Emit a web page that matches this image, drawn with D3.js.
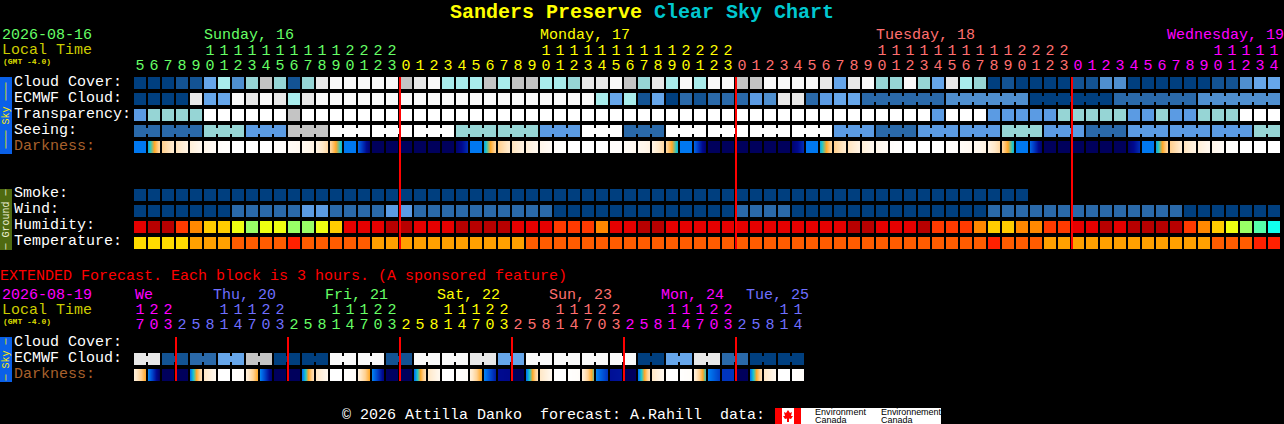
<!DOCTYPE html>
<html>
<head>
<meta charset="utf-8">
<title>Sanders Preserve Clear Sky Chart</title>
<script src="https://cdn.jsdelivr.net/npm/d3@7"></script>
<style>
    html, body { margin: 0; padding: 0; background: #000; overflow: hidden; }
    svg { display: block; }
    text { font-family: "Liberation Mono", "DejaVu Sans Mono", monospace; font-size: 15px; white-space: pre; }
</style>
</head>
<body>
<div id="chart"></div>
<script>
// colour levels used by the sky rows
var skyColors = ["#003f7f", "#135393", "#2a69a9", "#4f8fcf", "#5b9be3", "#66a6ea", "#96d5d5", "#a8ecec", "#c4c4c4", "#e8e8e8", "#f9f9f9", "#ffffff"];
var humidityColors = ["#b80000", "#e60000", "#ff3a00", "#ff8800", "#ffcc00", "#eeff11", "#99ff66", "#55ffaa", "#11ffee"];
var tempColors = ["#ffdc00", "#ffa000", "#ff5c00", "#ff2000"];
var darkLevels = [0, 1, 2, 3, 4, 5, 6, 7, 8, 9];
var darkColors = ["#ffffff", "#fff6ea", "#ffe8c8", "#ffd090", "#ffa828", "#20c8c8", "#0078f0", "#0040c8", "#000a90", "#00005c"];

// hourly block, 82 columns
var hours = [5,6,7,8,9,10,11,12,13,14,15,16,17,18,19,20,21,22,23,
    0,1,2,3,4,5,6,7,8,9,10,11,12,13,14,15,16,17,18,19,20,21,22,23,
    0,1,2,3,4,5,6,7,8,9,10,11,12,13,14,15,16,17,18,19,20,21,22,23,
    0,1,2,3,4,5,6,7,8,9,10,11,12,13,14];
var hourDays = [0,0,0,0,0,0,0,0,0,0,0,0,0,0,0,0,0,0,0,
    1,1,1,1,1,1,1,1,1,1,1,1,1,1,1,1,1,1,1,1,1,1,1,1,
    2,2,2,2,2,2,2,2,2,2,2,2,2,2,2,2,2,2,2,2,2,2,2,2,
    3,3,3,3,3,3,3,3,3,3,3,3,3,3,3];
var dayNames = ["Sunday, 16", "Monday, 17", "Tuesday, 18", "Wednesday, 19"];
var dayCols = [5, 29, 53, 77];
var dayColors = ["#66ff66", "#ffff00", "#ff6f6f", "#ff00ff"];
var midnights = [19, 43, 67];

var cloud = [0,0,0,1,1,5,7,3,6,8,6,1,6,9,10,10,10,10,10,8,9,
    10,7,7,7,8,7,8,8,7,7,6,9,9,10,8,6,9,7,10,7,10,10,8,8,10,10,10,10,9,5,
    9,10,6,6,10,6,5,9,7,6,0,1,0,0,0,0,1,1,3,3,0,0,0,0,0,0,1,1,3,5,5];
var ecmwf = [0,0,0,0,9,5,5,10,9,10,9,7,9,10,10,10,10,10,10,10,10,
    10,10,10,10,10,10,10,10,10,10,10,10,7,5,7,1,5,0,2,1,2,2,2,4,3,9,9,2,4,5,
    5,2,2,2,2,2,2,3,3,3,3,3,3,0,0,0,0,0,0,2,2,2,2,2,2,3,3,3,3,3,3];
var ecmwfRuns = [1,1,1,1,1,1,1,1,1,1,1,1,1,1,1,1,1,1,1,1,1,1,1,1,1,1,
    1,1,1,1,1,1,1,1,1,1,1,1,1,1,1,1,1,1,1,1,1,1,1,1,1,1,6,6,6,6,6];
var transparency = [4,6,6,6,6,11,11,11,11,11,11,8,11,11,11,11,11,11,11,11,11,
    11,11,11,11,11,11,11,11,11,11,11,11,11,11,11,11,11,11,11,11,11,11,11,11,11,11,11,11,11,11,
    11,11,11,11,11,11,4,11,11,11,4,4,4,4,4,6,6,6,6,6,4,4,6,4,4,6,6,6,11,11,11];
var seeing = [2,2,2,2,2,6,6,6,4,4,4,8,8,8,11,11,11,11,11,11,11,
    11,11,6,6,6,6,6,6,4,4,4,11,11,11,2,2,2,11,11,11,11,11,11,11,11,11,11,11,11,4,
    4,4,2,2,2,4,4,4,4,4,4,6,6,6,4,4,4,2,2,2,4,4,4,4,4,4,4,4,4,6,6];
var seeingRuns = [2,3,3,3,3,3,3,3,3,3,3,3,3,3,3,3,3,3,3,3,3,3,3,3,3,3,3,2];
var darkStart = [6,5.4,3,2.2,1.5,1,0.2,0,0,0,0.2,0.4,0.7,1.2,2.8,6,6.4,9,9,9,9,9,9,8.6,
    6,5.4,3,2.2,1.5,1,0.2,0,0,0,0.2,0.4,0.7,1.2,2.8,6,6.4,9,9,9,9,9,9,8.6,
    6,5.4,3,2.2,1.5,1,0.2,0,0,0,0.2,0.4,0.7,1.2,2.8,6,6.4,9,9,9,9,9,9,8.6,
    6,5.4,3,2.2,1.5,1,0.2,0,0,0];
var darkEnd = [6,2.8,1.8,1.2,0.8,0.4,0.1,0,0,0,0.2,0.7,1.2,2.6,5.2,6,8.6,9,9,9,9,9,9,7.4,
    6,2.8,1.8,1.2,0.8,0.4,0.1,0,0,0,0.2,0.7,1.2,2.6,5.2,6,8.6,9,9,9,9,9,9,7.4,
    6,2.8,1.8,1.2,0.8,0.4,0.1,0,0,0,0.2,0.7,1.2,2.6,5.2,6,8.6,9,9,9,9,9,9,7.4,
    6,2.8,1.8,1.2,0.8,0.4,0.1,0,0,0];

var smoke = [0,0,0,0,0,0,0,0,0,0,0,0,0,0,0,0,0,0,0,0,0,0,0,0,0,0,0,0,0,0,0,0,
    0,0,0,0,0,0,0,0,0,0,0,0,0,0,0,0,0,0,0,0,0,0,0,0,0,0,0,0,0,0,0,0];
var wind = [0,0,0,0,0,0,0,2,2,2,2,2,4,4,2,2,2,2,4,4,2,
    2,2,2,2,2,2,2,2,2,0,0,0,0,0,0,0,0,0,0,0,0,0,2,2,2,2,0,0,0,0,
    0,0,0,0,0,0,0,0,0,0,2,2,2,2,2,2,2,2,2,2,2,2,2,2,0,0,0,0,0,0,0];
var humidity = [1,0,0,2,3,4,4,5,6,5,5,6,6,5,4,1,1,1,0,0,1,
    1,1,0,0,0,0,1,1,1,2,2,2,3,1,1,0,0,1,1,1,1,1,1,1,1,1,1,1,1,1,
    0,0,1,1,1,0,2,2,2,3,4,4,3,3,2,2,1,1,0,1,0,0,0,0,2,3,4,5,6,7,8];
var temperature = [0,0,0,0,1,1,1,2,2,2,2,3,2,2,2,2,2,1,1,1,1,
    1,1,1,1,1,1,1,2,2,2,2,2,2,2,2,2,2,2,2,2,2,2,2,2,2,2,2,2,2,2,
    2,2,2,2,2,2,2,2,2,2,3,2,2,2,1,1,1,1,1,1,1,1,1,1,1,1,2,2,2,3,3];

// extended block, 48 columns of 3 hours each
var extHours = [17,20,23,2,5,8,11,14,17,20,23,2,5,8,11,14,17,20,23,2,5,8,11,14,
    17,20,23,2,5,8,11,14,17,20,23,2,5,8,11,14,17,20,23,2,5,8,11,14];
var extHourDays = [0,0,0,1,1,1,1,1,1,1,1,2,2,2,2,2,2,2,2,3,3,3,3,3,
    3,3,3,4,4,4,4,4,4,4,4,5,5,5,5,5,5,5,5,6,6,6,6,6];
var extDayNames = ["We", "Thu, 20", "Fri, 21", "Sat, 22", "Sun, 23", "Mon, 24", "Tue, 25"];
var extDayCols = [0, 6, 14, 22, 30, 38, 46];
var extDayColors = ["#ff00ff", "#6f6fff", "#66ff66", "#ffff00", "#ff6f6f", "#ff00ff", "#6f6fff"];
var extMidnights = [3, 11, 19, 27, 35, 43];
var extEcmwf = [9,9,1,1,2,2,5,5,8,8,0,0,0,0,10,10,10,10,1,1,10,10,10,10,
    9,9,5,5,10,10,10,10,10,10,10,10,0,0,5,5,9,9,2,2,0,0,0,0];
var extRuns = [2,2,2,2,2,2,2,2,2,2,2,2,2,2,2,2,2,2,2,2,2,2,2,2];
var extDarkStart = [1.5,5.9,9,9,6,2,0,0.1,1.5,5.9,9,9,6,2,0,0.1,1.5,5.9,8.9,9,6,2,0,0.1,
    1.5,5.9,8,9,6,2,0,0.1,1.5,5.9,7.9,9,6,2,0,0.1,1.5,5.9,7.2,9,6,2,0,0.1];
var extDarkEnd = [3.9,8.8,9,9,2.4,0.8,0,0.3,3.9,8.5,9,9,2.4,0.8,0,0.3,3.9,8.2,8.9,9,2.4,0.8,0,0.3,
    4.1,7.6,8.1,9,2.4,0.8,0,0.3,4.5,7.2,7.8,9,2.4,0.8,0,0.3,4.8,7,7.2,9,2.4,0.8,0,0.3];

var W = 1284, H = 424;
var step = 14, cellW = 12, cellH = 12;

var svg = d3.select("#chart").append("svg")
    .attr("width", W)
    .attr("height", H);

var darkScale = d3.scaleLinear().domain(darkLevels).range(darkColors).clamp(true);

var x = d3.scaleBand()
    .domain(d3.range(hours.length))
    .range([134, 134 + hours.length * step - 2])
    .paddingInner(2 / step)
    .paddingOuter(0);

var xExt = d3.scaleBand()
    .domain(d3.range(extHours.length))
    .range([134, 134 + extHours.length * step - 2])
    .paddingInner(2 / step)
    .paddingOuter(0);

function label(str, px, py, color, size, anchor) {
    return svg.append("text")
        .attr("x", px)
        .attr("y", py)
        .attr("fill", color)
        .attr("text-anchor", anchor || "start")
        .style("font-size", (size || 15) + "px")
        .text(str);
}

// one row of solid cells; runs joins neighbours with a small bridge in the gap
function drawRow(scale, top, values, colors, runs) {
    var g = svg.append("g");
    g.selectAll("rect.cell")
        .data(values)
        .enter()
        .append("rect")
        .attr("class", "cell")
        .attr("x", function(d, i) { return scale(i); })
        .attr("y", top)
        .attr("width", cellW)
        .attr("height", cellH)
        .attr("fill", function(d) { return colors[d]; });

    if (runs) {
        var col = 0;
        runs.forEach(function(n) {
            for (var k = 0; k < n - 1; k++) {
                g.append("rect")
                    .attr("x", scale(col + k) + cellW)
                    .attr("y", top + 3)
                    .attr("width", step - cellW)
                    .attr("height", cellH - 6)
                    .attr("fill", colors[values[col + k]]);
            }
            col += n;
        });
    }
}

// darkness cells fade from start to end, one pixel column at a time
function drawDarkness(scale, top, starts, ends) {
    svg.append("g").selectAll("g")
        .data(starts)
        .enter()
        .append("g")
        .attr("transform", function(d, i) { return "translate(" + scale(i) + "," + top + ")"; })
        .each(function(d, i) {
            d3.select(this).selectAll("rect")
                .data(d3.range(cellW))
                .enter()
                .append("rect")
                .attr("x", function(p) { return p; })
                .attr("width", 1)
                .attr("height", cellH)
                .attr("shape-rendering", "crispEdges")
                .attr("fill", function(p) {
                    return darkScale(starts[i] + (ends[i] - starts[i]) * p / (cellW - 1));
                });
        });
}

function drawHours(scale, hrs, days, colors, tensY, unitsY) {
    hrs.forEach(function(h, i) {
        var cx = scale(i) + cellW / 2;
        if (h >= 10) label(Math.floor(h / 10), cx, tensY, colors[days[i]], 15, "middle");
        label(h % 10, cx, unitsY, colors[days[i]], 15, "middle");
    });
}

function drawMidnights(scale, cols, top, bottom) {
    svg.append("g").selectAll("rect")
        .data(cols)
        .enter()
        .append("rect")
        .attr("x", function(d) { return scale(d) - 1; })
        .attr("y", top)
        .attr("width", 2)
        .attr("height", bottom - top)
        .attr("fill", "#ff0000");
}

function sideBar(top, bottom, fill, str, color) {
    svg.append("rect")
        .attr("x", 0)
        .attr("y", top)
        .attr("width", 12)
        .attr("height", bottom - top)
        .attr("fill", fill);
    svg.append("text")
        .attr("transform", "translate(9," + ((top + bottom) / 2) + ") rotate(-90)")
        .attr("text-anchor", "middle")
        .attr("fill", color)
        .style("font-size", "10px")
        .text(str);
}

// title
var title = svg.append("text")
    .attr("x", 450)
    .attr("y", 18)
    .style("font-size", "20px")
    .style("font-weight", "bold");
title.append("tspan").attr("fill", "#ffff00").text("Sanders Preserve ");
title.append("tspan").attr("fill", "#00c8d0").text("Clear Sky Chart");

// hourly header
label("2026-08-16", 2, 39, "#66ff66");
label("Local Time", 2, 54, "#cccc00");
label("(GMT -4.0)", 3, 64, "#dddd00", 8).style("font-weight", "bold");
dayNames.forEach(function(name, i) {
    var px = Math.min(x(Math.min(dayCols[i], hours.length - 1)), W - name.length * 9);
    label(name, px, 39, dayColors[i]);
});
drawHours(x, hours, hourDays, dayColors, 55, 70);

// hourly rows
sideBar(77, 154, "#0a60e8", "\u2500\u2500\u2500 Sky \u2500\u2500\u2500", "#ffee00");
label("Cloud Cover:", 14, 86, "#ffffff");
label("ECMWF Cloud:", 14, 102, "#ffffff");
label("Transparency:", 14, 118, "#ffffff");
label("Seeing:", 14, 134, "#ffffff");
label("Darkness:", 14, 150, "#a8602c");
drawRow(x, 77, cloud, skyColors);
drawRow(x, 93, ecmwf, skyColors, ecmwfRuns);
drawRow(x, 109, transparency, skyColors);
drawRow(x, 125, seeing, skyColors, seeingRuns);
drawDarkness(x, 141, darkStart, darkEnd);

sideBar(189, 250, "#4f6a10", "\u2500 Ground \u2500", "#f0f0d8");
label("Smoke:", 14, 197, "#ffffff");
label("Wind:", 14, 213, "#ffffff");
label("Humidity:", 14, 229, "#ffffff");
label("Temperature:", 14, 245, "#ffffff");
drawRow(x, 189, smoke, skyColors);
drawRow(x, 205, wind, skyColors);
drawRow(x, 221, humidity, humidityColors);
drawRow(x, 237, temperature, tempColors);
drawMidnights(x, midnights, 77, 249);

// extended block
label("EXTENDED Forecast. Each block is 3 hours. (A sponsored feature)", 0, 280, "#ff0000");
label("2026-08-19", 2, 299, "#ff00ff");
label("Local Time", 2, 314, "#cccc00");
label("(GMT -4.0)", 3, 324, "#dddd00", 8).style("font-weight", "bold");
extDayNames.forEach(function(name, i) {
    var px = i == 0 ? xExt(0) + 1 : Math.min(xExt(extDayCols[i]) - 5, 809 - name.length * 9);
    label(name, px, 299, extDayColors[i]);
});
drawHours(xExt, extHours, extHourDays, extDayColors, 314, 329);

sideBar(337, 382, "#0a60e8", "\u2500 Sky \u2500", "#ffee00");
label("Cloud Cover:", 14, 346, "#ffffff");
label("ECMWF Cloud:", 14, 362, "#ffffff");
label("Darkness:", 14, 378, "#a8602c");
drawRow(xExt, 353, extEcmwf, skyColors, extRuns);
drawDarkness(xExt, 369, extDarkStart, extDarkEnd);
drawMidnights(xExt, extMidnights, 337, 381);

// footer
label("\u00a9 2026 Attilla Danko  forecast: A.Rahill  data:", 342, 419, "#ffffff");

var logo = svg.append("g");
logo.append("rect").attr("x", 775).attr("y", 408).attr("width", 166).attr("height", 16).attr("fill", "#ffffff");
logo.append("rect").attr("x", 775).attr("y", 408).attr("width", 7).attr("height", 16).attr("fill", "#ff0000");
logo.append("rect").attr("x", 794).attr("y", 408).attr("width", 7).attr("height", 16).attr("fill", "#ff0000");
logo.append("path")
    .attr("d", "M788 410 L790 413 L792 412 L791 416 L793 416 L791 419 L789 418.5 L789 422 L787 422 L787 418.5 L785 419 L783 416 L785 416 L784 412 L786 413 Z")
    .attr("fill", "#ff0000");
[[815, "Environment"], [881, "Environnement"]].forEach(function(d) {
    logo.append("text").attr("x", d[0]).attr("y", 415).attr("fill", "#000")
        .attr("textLength", d[1].length == 11 ? 51 : 60)
        .style("font-size", "9px").style("font-family", "Liberation Sans").text(d[1]);
    logo.append("text").attr("x", d[0]).attr("y", 423).attr("fill", "#000")
        .style("font-size", "9px").style("font-family", "Liberation Sans").text("Canada");
});
</script>
</body>
</html>
